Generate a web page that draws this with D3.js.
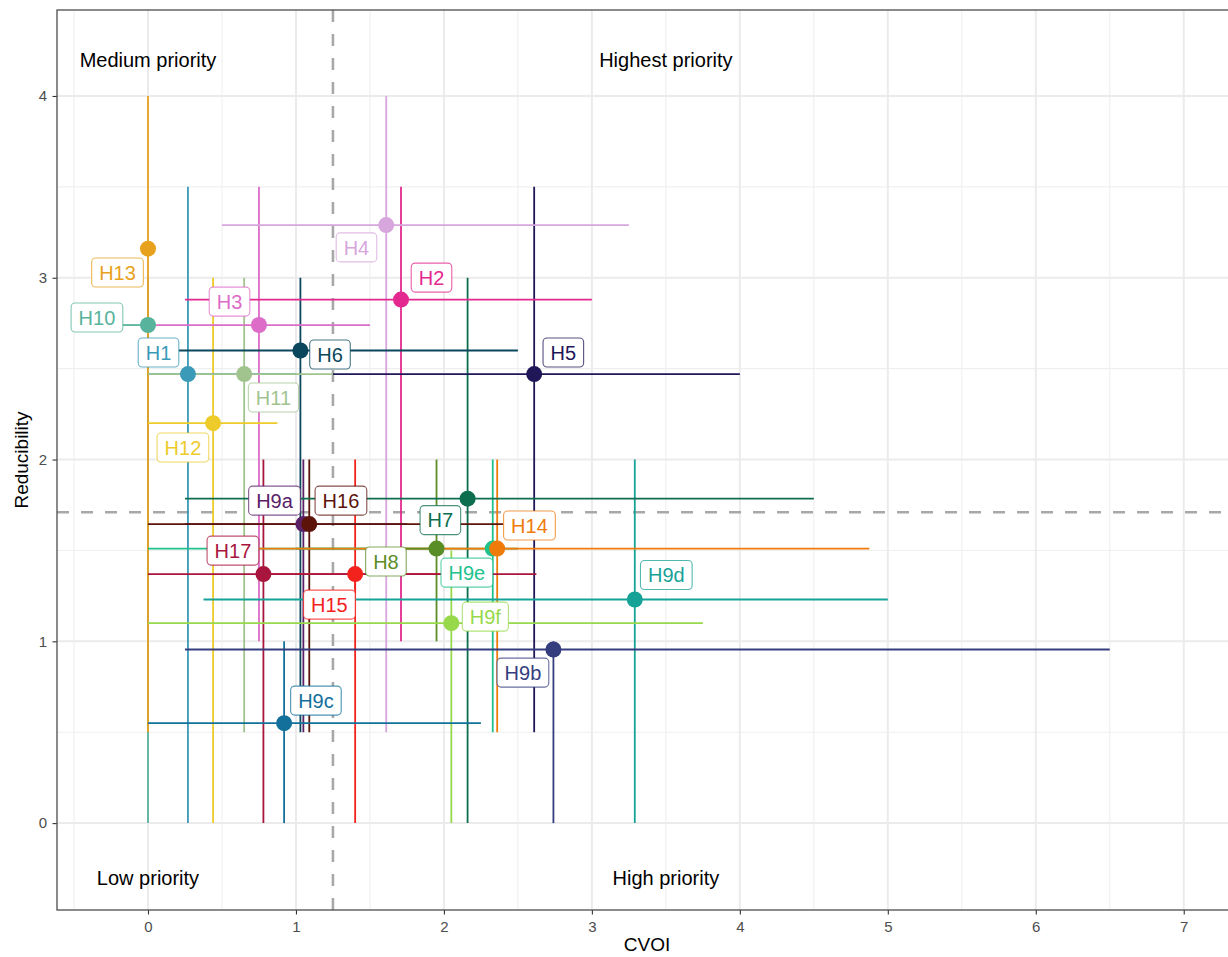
<!DOCTYPE html>
<html>
<head>
<meta charset="utf-8">
<script src="https://cdn.jsdelivr.net/npm/d3@7"></script>
<style>
  html, body { margin: 0; padding: 0; background: #ffffff; }
  svg { display: block; font-family: "Liberation Sans", Arial, Helvetica, sans-serif; }
</style>
</head>
<body>
<svg id="chart" width="1228" height="957"></svg>
<script>
// ---- data -------------------------------------------------------------
const hypotheses = ["H1","H2","H3","H4","H5","H6","H7","H8","H9a","H9b","H9c",
                    "H9d","H9e","H9f","H10","H11","H12","H13","H14","H15","H16","H17"];
const colours = ["#3A9AB8","#E3298F","#DD6CC8","#D7A6DC","#1F1757","#0A475C","#0D6E4F",
                 "#5B8D27","#5A2068","#343D7E","#13709B","#17A297","#20C28C","#97D94B",
                 "#57B39C","#A1C48F","#EDCB2B","#E8A11D","#EF7B0B","#F4221C","#5C1309","#A9163D"];

// central CVOI estimate and its interval
const cvoi     = [0.27, 1.71, 0.75, 1.61, 2.61, 1.03, 2.16, 1.95, 1.05, 2.74, 0.92,
                  3.29, 2.33, 2.05, 0.00, 0.65, 0.44, 0.00, 2.36, 1.40, 1.09, 0.78];
const cvoiLow  = [0.00, 0.25, 0.00, 0.50, 1.25, 0.00, 0.25, 1.00, 0.25, 0.25, 0.00,
                  0.375,0.00, 0.00, 0.00, 0.00, 0.00, 0.00, 0.50, 0.75, 0.00, 0.00];
const cvoiHigh = [1.00, 3.00, 1.50, 3.25, 4.00, 2.50, 4.50, 2.50, 1.75, 6.50, 2.25,
                  5.00, 1.75, 3.75, 0.00, 1.25, 0.875,0.00, 4.875,2.00, 2.40, 2.625];

// central reducibility estimate and its interval
const reducibility = [2.47, 2.88, 2.74, 3.29, 2.47, 2.60, 1.785, 1.51, 1.645, 0.955, 0.55,
                      1.23, 1.51, 1.10, 2.74, 2.47, 2.20, 3.16, 1.51, 1.37, 1.645, 1.37];
const reducLow  = [0.0, 1.0, 1.0, 0.5, 0.5, 0.5, 0.0, 1.0, 0.5, 0.0, 0.0,
                   0.0, 0.5, 0.0, 0.0, 0.5, 0.0, 0.5, 0.5, 0.0, 0.5, 0.0];
const reducHigh = [3.5, 3.5, 3.5, 4.0, 3.5, 3.0, 3.0, 2.0, 2.0, 1.0, 1.0,
                   2.0, 2.0, 1.5, 3.0, 3.0, 3.0, 4.0, 2.0, 2.0, 2.0, 2.0];

// where each repelled label settled (CVOI, reducibility)
const labelCvoi = [0.071, 1.916, 0.551, 1.409, 2.807, 1.230, 1.976, 1.608, 0.855, 2.534, 1.135,
                   3.503, 2.155, 2.280, -0.345, 0.848, 0.236, -0.206, 2.578, 1.226, 1.304, 0.574];
const labelReduc = [2.589, 3.001, 2.869, 3.167, 2.589, 2.578, 1.667, 1.439, 1.774, 0.828, 0.674,
                    1.365, 1.378, 1.136, 2.781, 2.341, 2.066, 3.029, 1.637, 1.202, 1.774, 1.499];

const xTicks = [0, 1, 2, 3, 4, 5, 6, 7];
const yTicks = [0, 1, 2, 3, 4];
const xMinor = [-0.5, 0.5, 1.5, 2.5, 3.5, 4.5, 5.5, 6.5];
const yMinor = [0.5, 1.5, 2.5, 3.5];

const quadrantNames = ["Medium priority", "Highest priority", "Low priority", "High priority"];
const quadrantCvoi  = [0, 3.5, 0, 3.5];
const quadrantReduc = [4.2, 4.2, -0.3, -0.3];

const cvoiThreshold = 1.25;
const reducThreshold = 1.71;

// ---- layout -----------------------------------------------------------
const svg = d3.select("#chart");
const panel = { left: 57, top: 10, right: 1237, bottom: 910 };

const x = d3.scaleLinear().domain([-0.615, 7.36]).range([panel.left, panel.right]);
const y = d3.scaleLinear().domain([-0.478, 4.473]).range([panel.bottom, panel.top]);

const rows = hypotheses.map((h, i) => ({
  id: h, colour: colours[i],
  cx: cvoi[i], cLo: cvoiLow[i], cHi: cvoiHigh[i],
  ry: reducibility[i], rLo: reducLow[i], rHi: reducHigh[i],
  lx: labelCvoi[i], ly: labelReduc[i]
}));

svg.append("defs").append("clipPath").attr("id", "panel-clip")
  .append("rect")
  .attr("x", panel.left).attr("y", panel.top)
  .attr("width", panel.right - panel.left).attr("height", panel.bottom - panel.top);

const grid = svg.append("g").attr("clip-path", "url(#panel-clip)");

// minor grid
grid.selectAll(".vminor").data(xMinor).join("line")
  .attr("x1", d => x(d)).attr("x2", d => x(d))
  .attr("y1", panel.top).attr("y2", panel.bottom)
  .attr("stroke", "#EFEFEF").attr("stroke-width", 1.1);
grid.selectAll(".hminor").data(yMinor).join("line")
  .attr("y1", d => y(d)).attr("y2", d => y(d))
  .attr("x1", panel.left).attr("x2", panel.right)
  .attr("stroke", "#EFEFEF").attr("stroke-width", 1.1);
// major grid
grid.selectAll(".vmajor").data(xTicks).join("line")
  .attr("x1", d => x(d)).attr("x2", d => x(d))
  .attr("y1", panel.top).attr("y2", panel.bottom)
  .attr("stroke", "#EBEBEB").attr("stroke-width", 2);
grid.selectAll(".hmajor").data(yTicks).join("line")
  .attr("y1", d => y(d)).attr("y2", d => y(d))
  .attr("x1", panel.left).attr("x2", panel.right)
  .attr("stroke", "#EBEBEB").attr("stroke-width", 2);

const plot = svg.append("g").attr("clip-path", "url(#panel-clip)");

// threshold lines
plot.append("line")
  .attr("x1", x(cvoiThreshold)).attr("x2", x(cvoiThreshold))
  .attr("y1", panel.top).attr("y2", panel.bottom)
  .attr("stroke", "#A8A8A8").attr("stroke-width", 2.6).attr("stroke-dasharray", "12,12");
plot.append("line")
  .attr("y1", y(reducThreshold)).attr("y2", y(reducThreshold))
  .attr("x1", panel.left).attr("x2", panel.right)
  .attr("stroke", "#A8A8A8").attr("stroke-width", 2.6).attr("stroke-dasharray", "12,12");

const lineW = 1.8;

// vertical intervals (reducibility)
plot.append("g").selectAll("line").data(rows).join("line")
  .attr("x1", d => x(d.cx)).attr("x2", d => x(d.cx))
  .attr("y1", d => y(d.rLo)).attr("y2", d => y(d.rHi))
  .attr("stroke", d => d.colour).attr("stroke-width", lineW);

// horizontal intervals (CVOI)
plot.append("g").selectAll("line").data(rows).join("line")
  .attr("x1", d => x(d.cLo)).attr("x2", d => x(d.cHi))
  .attr("y1", d => y(d.ry)).attr("y2", d => y(d.ry))
  .attr("stroke", d => d.colour).attr("stroke-width", lineW);

// quadrant captions
plot.append("g").selectAll("text").data(quadrantNames).join("text")
  .attr("x", (d, i) => x(quadrantCvoi[i]))
  .attr("y", (d, i) => y(quadrantReduc[i]))
  .attr("dy", "0.36em")
  .attr("text-anchor", "middle")
  .attr("font-size", 20)
  .attr("fill", "#000")
  .text(d => d);

// ---- labels: measure first so connectors can reach the box edge ----
const pointR = 8;
const labelLayer = svg.append("g");
const boxes = rows.map(d => {
  const t = labelLayer.append("text")
    .attr("font-size", 20).attr("visibility", "hidden").text(d.id);
  const w = t.node().getComputedTextLength();
  t.remove();
  const bw = w + 15, bh = 29;
  const cx = x(d.lx), cy = y(d.ly);
  return { d, x0: cx - bw / 2, y0: cy - bh / 2, w: bw, h: bh, cx, cy };
});

// connectors
const segs = plot.append("g");
boxes.forEach(b => {
  const px = x(b.d.cx), py = y(b.d.ry);
  const nx = Math.max(b.x0, Math.min(px, b.x0 + b.w));
  const ny = Math.max(b.y0, Math.min(py, b.y0 + b.h));
  const dist = Math.hypot(nx - px, ny - py);
  if (dist - pointR > 5) {
    segs.append("line")
      .attr("x1", px).attr("y1", py).attr("x2", nx).attr("y2", ny)
      .attr("stroke", b.d.colour).attr("stroke-width", lineW);
  }
});

// points
plot.append("g").selectAll("circle").data(rows).join("circle")
  .attr("cx", d => x(d.cx)).attr("cy", d => y(d.ry)).attr("r", pointR)
  .attr("fill", d => d.colour);

// label boxes
const lab = labelLayer.selectAll("g").data(boxes).join("g");
lab.append("rect")
  .attr("x", b => b.x0).attr("y", b => b.y0)
  .attr("width", b => b.w).attr("height", b => b.h)
  .attr("rx", 4).attr("ry", 4)
  .attr("fill", "#fff")
  .attr("stroke", b => b.d.colour).attr("stroke-opacity", 0.75).attr("stroke-width", 1.1);
lab.append("text")
  .attr("x", b => b.cx).attr("y", b => b.cy).attr("dy", "0.36em")
  .attr("text-anchor", "middle").attr("font-size", 20)
  .attr("fill", b => b.d.colour)
  .text(b => b.d.id);

// ---- axes ---------------------------------------------------------------
const xAxis = svg.append("g").attr("transform", `translate(0,${panel.bottom})`)
  .call(d3.axisBottom(x).tickValues(xTicks).tickFormat(d3.format("d")).tickSize(4.5).tickPadding(6.5));
const yAxis = svg.append("g").attr("transform", `translate(${panel.left},0)`)
  .call(d3.axisLeft(y).tickValues(yTicks).tickFormat(d3.format("d")).tickSize(4.5).tickPadding(5.5));
[xAxis, yAxis].forEach(a => {
  a.attr("font-size", 15).attr("font-family", "Liberation Sans, Arial, sans-serif");
  a.select(".domain").remove();
  a.selectAll(".tick line").attr("stroke", "#333333").attr("stroke-width", 1.1);
  a.selectAll(".tick text").attr("fill", "#4D4D4D").attr("font-size", 15);
});

// panel border
svg.append("rect")
  .attr("x", panel.left).attr("y", panel.top)
  .attr("width", panel.right - panel.left).attr("height", panel.bottom - panel.top)
  .attr("fill", "none").attr("stroke", "#4D4D4D").attr("stroke-width", 1.3);

// axis titles
svg.append("text")
  .attr("x", (panel.left + panel.right) / 2).attr("y", 951)
  .attr("text-anchor", "middle").attr("font-size", 19).attr("fill", "#000")
  .text("CVOI");
svg.append("text")
  .attr("transform", `translate(27.5,${(panel.top + panel.bottom) / 2}) rotate(-90)`)
  .attr("text-anchor", "middle").attr("font-size", 19).attr("fill", "#000")
  .text("Reducibility");
</script>
</body>
</html>
